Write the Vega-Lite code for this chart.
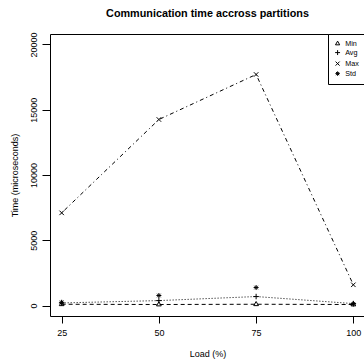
{
  "$schema": "https://vega.github.io/schema/vega-lite/v6.json",
  "autosize": "none",
  "padding": {"left": 50, "top": 34, "right": 0, "bottom": 46},
  "width": 315,
  "height": 282,
  "background": "white",
  "title": {
    "text": "Communication time accross partitions",
    "font": "Liberation Sans",
    "fontSize": 10.8,
    "fontWeight": "bold",
    "color": "black",
    "anchor": "middle",
    "offset": 13
  },
  "data": {
    "values": [
      {"load": 25, "series": "Min", "value": 100},
      {"load": 50, "series": "Min", "value": 80},
      {"load": 75, "series": "Min", "value": 100},
      {"load": 100, "series": "Min", "value": 80},
      {"load": 25, "series": "Avg", "value": 200},
      {"load": 50, "series": "Avg", "value": 380},
      {"load": 75, "series": "Avg", "value": 690},
      {"load": 100, "series": "Avg", "value": 150},
      {"load": 25, "series": "Max", "value": 7100},
      {"load": 50, "series": "Max", "value": 14250},
      {"load": 75, "series": "Max", "value": 17700},
      {"load": 100, "series": "Max", "value": 1590},
      {"load": 25, "series": "Std", "value": 250},
      {"load": 50, "series": "Std", "value": 770},
      {"load": 75, "series": "Std", "value": 1380},
      {"load": 100, "series": "Std", "value": 130}
    ]
  },
  "encoding": {
    "x": {
      "field": "load", "type": "quantitative",
      "scale": {"domain": [22, 103], "nice": false, "zero": false},
      "axis": {
        "title": "Load (%)", "values": [25, 50, 75, 100],
        "grid": false, "domain": false, "tickSize": 7, "tickColor": "black",
        "labelPadding": 5, "labelFontSize": 9, "labelFont": "Liberation Sans", "labelColor": "black",
        "titleFontSize": 9, "titleFont": "Liberation Sans", "titleFontWeight": "normal", "titleColor": "black",
        "titlePadding": 12
      }
    },
    "y": {
      "field": "value", "type": "quantitative",
      "scale": {"domain": [-800, 20800], "nice": false, "zero": false},
      "axis": {
        "title": "Time (microseconds)", "values": [0, 5000, 10000, 15000, 20000], "format": "d",
        "grid": false, "domain": false, "tickSize": 8, "tickColor": "black",
        "labelAngle": 270, "labelAlign": "center", "labelBaseline": "bottom",
        "labelPadding": 4, "labelFontSize": 9, "labelFont": "Liberation Sans", "labelColor": "black",
        "titleFontSize": 9, "titleFont": "Liberation Sans", "titleFontWeight": "normal", "titleColor": "black",
        "titlePadding": 10
      }
    }
  },
  "layer": [
    {
      "transform": [{"filter": "datum.series != 'Std'"}],
      "mark": {"type": "line", "stroke": "black", "strokeWidth": 1},
      "encoding": {
        "detail": {"field": "series"},
        "strokeDash": {
          "field": "series", "type": "nominal",
          "scale": {"domain": ["Min", "Avg", "Max"], "range": [[4, 3], [1, 2], [1, 3, 4, 3]]},
          "legend": null
        }
      }
    },
    {
      "mark": {"type": "point", "filled": false, "stroke": "black", "strokeWidth": 1, "size": 25, "opacity": 1},
      "encoding": {
        "shape": {
          "field": "series", "type": "nominal",
          "scale": {
            "domain": ["Min", "Avg", "Max", "Std"],
            "range": [
              "M0,-1.1L0.95,0.55L-0.95,0.55Z",
              "M-1.1,0H1.1M0,-1.1V1.1",
              "M-0.9,-0.9L0.9,0.9M-0.9,0.9L0.9,-0.9",
              "M-1,0H1M0,-1V1M-0.7,-0.7L0.7,0.7M-0.7,0.7L0.7,-0.7"
            ]
          },
          "legend": {
            "title": null, "orient": "none", "legendX": 278, "legendY": 0,
            "strokeColor": "black", "fillColor": "white", "padding": 6,
            "labelFontSize": 7.2, "labelFont": "Liberation Sans", "labelColor": "black",
            "labelOffset": 4, "symbolSize": 20, "symbolStrokeColor": "black",
            "symbolFillColor": "transparent", "symbolStrokeWidth": 1, "rowPadding": 1
          }
        }
      }
    }
  ],
  "config": {
    "view": {"stroke": "black", "strokeWidth": 1},
    "font": "Liberation Sans",
    "legend": {"labelColor": "black"}
  }
}
